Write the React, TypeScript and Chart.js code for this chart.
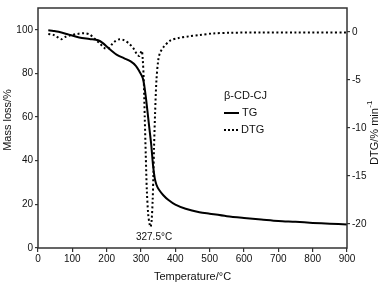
import React, { useEffect, useRef } from "react";
import { Chart, registerables } from "chart.js";

Chart.register(...registerables);

const tgTemps = [30, 45, 60, 90, 120, 150, 175, 190, 200, 215, 230, 250, 270, 285, 295, 305, 310, 315, 320, 325, 330, 335, 340, 345, 352, 365, 380, 400, 430, 470, 500, 550, 600, 650, 700, 750, 800, 850, 900];
const tgValues = [99.8, 99.5, 99.1, 97.8, 96.5, 95.8, 95.2, 93.8, 92.3, 90.3, 88.5, 87, 85.5, 83.5, 81, 78, 74, 68, 61, 54, 47, 38, 32, 29, 26.8, 24.2, 22, 19.9, 18, 16.4, 15.7, 14.6, 13.8, 13.1, 12.4, 12, 11.5, 11.1, 10.8];

const dtgTemps = [30, 45, 55, 68, 80, 95, 115, 135, 150, 165, 180, 195, 205, 215, 225, 238, 250, 265, 278, 288, 295, 302, 305, 308, 311, 314, 317, 321, 325, 328, 331, 334, 336, 338, 341, 345, 350, 355, 365, 385, 410, 440, 470, 510, 560, 650, 750, 900];
const dtgValues = [-0.2, -0.3, -0.5, -0.75, -0.5, -0.35, -0.2, -0.12, -0.25, -0.7, -1.2, -1.7, -1.7, -1.3, -0.95, -0.75, -0.85, -1.2, -1.7, -2.3, -2.5, -1.95, -2.8, -5, -9, -13, -16.5, -19, -20, -20.3, -19.6, -17.5, -15, -12, -8.5, -5, -3, -2.2, -1.6, -0.9, -0.62, -0.45, -0.32, -0.15, -0.08, -0.05, -0.05, -0.05];

const xTicks = [0, 100, 200, 300, 400, 500, 600, 700, 800, 900];
const leftTicks = [0, 20, 40, 60, 80, 100];
const rightTicks = [-20, -15, -10, -5, 0];

const peakLabel = "327.5°C";
const peakLabelPos = { x: 338, y: -21.4 };
const sampleName = "β-CD-CJ";

const FONT = "'Liberation Sans', Arial, sans-serif";
const AXIS = "#333";

const decor = {
  id: "decor",
  afterDraw(chart: any) {
    const ctx = chart.ctx;
    const a = chart.chartArea;
    ctx.save();
    ctx.strokeStyle = AXIS;
    ctx.lineWidth = 1.5;
    ctx.strokeRect(a.left, a.top, a.right - a.left, a.bottom - a.top);

    ctx.fillStyle = "#111";
    // peak annotation
    ctx.font = `10px ${FONT}`;
    ctx.textAlign = "center";
    ctx.textBaseline = "middle";
    const px = chart.scales.x.getPixelForValue(peakLabelPos.x);
    const py = chart.scales.y2.getPixelForValue(peakLabelPos.y);
    ctx.fillText(peakLabel, px, py);

    // legend block
    ctx.font = `11px ${FONT}`;
    ctx.textAlign = "left";
    ctx.fillText(sampleName, 224, 96);
    ctx.strokeStyle = "#000";
    ctx.lineWidth = 2;
    ctx.beginPath();
    ctx.moveTo(224, 113);
    ctx.lineTo(239, 113);
    ctx.stroke();
    ctx.fillText("TG", 242, 113);
    ctx.setLineDash([2, 2]);
    ctx.beginPath();
    ctx.moveTo(224, 130);
    ctx.lineTo(239, 130);
    ctx.stroke();
    ctx.setLineDash([]);
    ctx.fillText("DTG", 241, 130);

    // axis titles
    ctx.textAlign = "center";
    ctx.fillText("Temperature/°C", (a.left + a.right) / 2, 277);

    ctx.save();
    ctx.translate(8, 120);
    ctx.rotate(-Math.PI / 2);
    ctx.fillText("Mass loss/%", 0, 0);
    ctx.restore();

    ctx.save();
    ctx.translate(375, 133);
    ctx.rotate(-Math.PI / 2);
    const main = "DTG/% min";
    const w1 = ctx.measureText(main).width;
    ctx.font = `8px ${FONT}`;
    const w2 = ctx.measureText("-1").width;
    const start = -(w1 + w2) / 2;
    ctx.textAlign = "left";
    ctx.font = `11px ${FONT}`;
    ctx.fillText(main, start, 0);
    ctx.font = `8px ${FONT}`;
    ctx.fillText("-1", start + w1 + 0.5, -5);
    ctx.restore();

    ctx.restore();
  },
};

export default function App() {
  const ref = useRef<HTMLCanvasElement | null>(null);
  useEffect(() => {
    if (!ref.current) return;
    const tickFont = { family: FONT, size: 10 };
    const chart = new Chart(ref.current, {
      type: "line",
      data: {
        datasets: [
          {
            label: "TG",
            data: tgTemps.map((t, i) => ({ x: t, y: tgValues[i] })),
            yAxisID: "y",
            borderColor: "#000",
            borderWidth: 2,
            pointRadius: 0,
            tension: 0.3,
            fill: false,
          },
          {
            label: "DTG",
            data: dtgTemps.map((t, i) => ({ x: t, y: dtgValues[i] })),
            yAxisID: "y2",
            borderColor: "#000",
            borderWidth: 2,
            borderDash: [2, 2.5],
            pointRadius: 0,
            tension: 0.3,
            fill: false,
          },
        ],
      },
      options: {
        responsive: false,
        maintainAspectRatio: false,
        animation: false,
        layout: { padding: { top: 2, left: 0, right: 0, bottom: 0 } },
        plugins: { legend: { display: false }, tooltip: { enabled: false } },
        scales: {
          x: {
            type: "linear",
            min: 0,
            max: 900,
            afterBuildTicks: (s: any) => { s.ticks = xTicks.map((v) => ({ value: v })); },
            afterFit: (s: any) => { s.height = 38; },
            ticks: { font: tickFont, color: "#111", padding: 1, maxRotation: 0, autoSkip: false },
            grid: { drawOnChartArea: false, drawTicks: true, tickLength: 4, color: AXIS, lineWidth: 1.2 },
            border: { display: false },
          },
          y: {
            type: "linear",
            position: "left",
            min: 0,
            max: 110,
            afterBuildTicks: (s: any) => { s.ticks = leftTicks.map((v) => ({ value: v })); },
            afterFit: (s: any) => { s.width = 38; },
            ticks: { font: tickFont, color: "#111", padding: 2 },
            grid: { drawOnChartArea: false, drawTicks: true, tickLength: 3, color: AXIS, lineWidth: 1.2 },
            border: { display: false },
          },
          y2: {
            type: "linear",
            position: "right",
            min: -22.5,
            max: 2.5,
            afterBuildTicks: (s: any) => { s.ticks = rightTicks.map((v) => ({ value: v })); },
            afterFit: (s: any) => { s.width = 38; },
            ticks: { font: tickFont, color: "#111", padding: 2 },
            grid: { drawOnChartArea: false, drawTicks: true, tickLength: 3, color: AXIS, lineWidth: 1.2 },
            border: { display: false },
          },
        },
      } as any,
      plugins: [decor],
    });
    return () => chart.destroy();
  }, []);
  return (
    <div style={{ position: "fixed", left: 0, top: 0, width: 385, height: 286, background: "#fff" }}>
      <canvas ref={ref} width={385} height={286} style={{ width: 385, height: 286 }} />
    </div>
  );
}
